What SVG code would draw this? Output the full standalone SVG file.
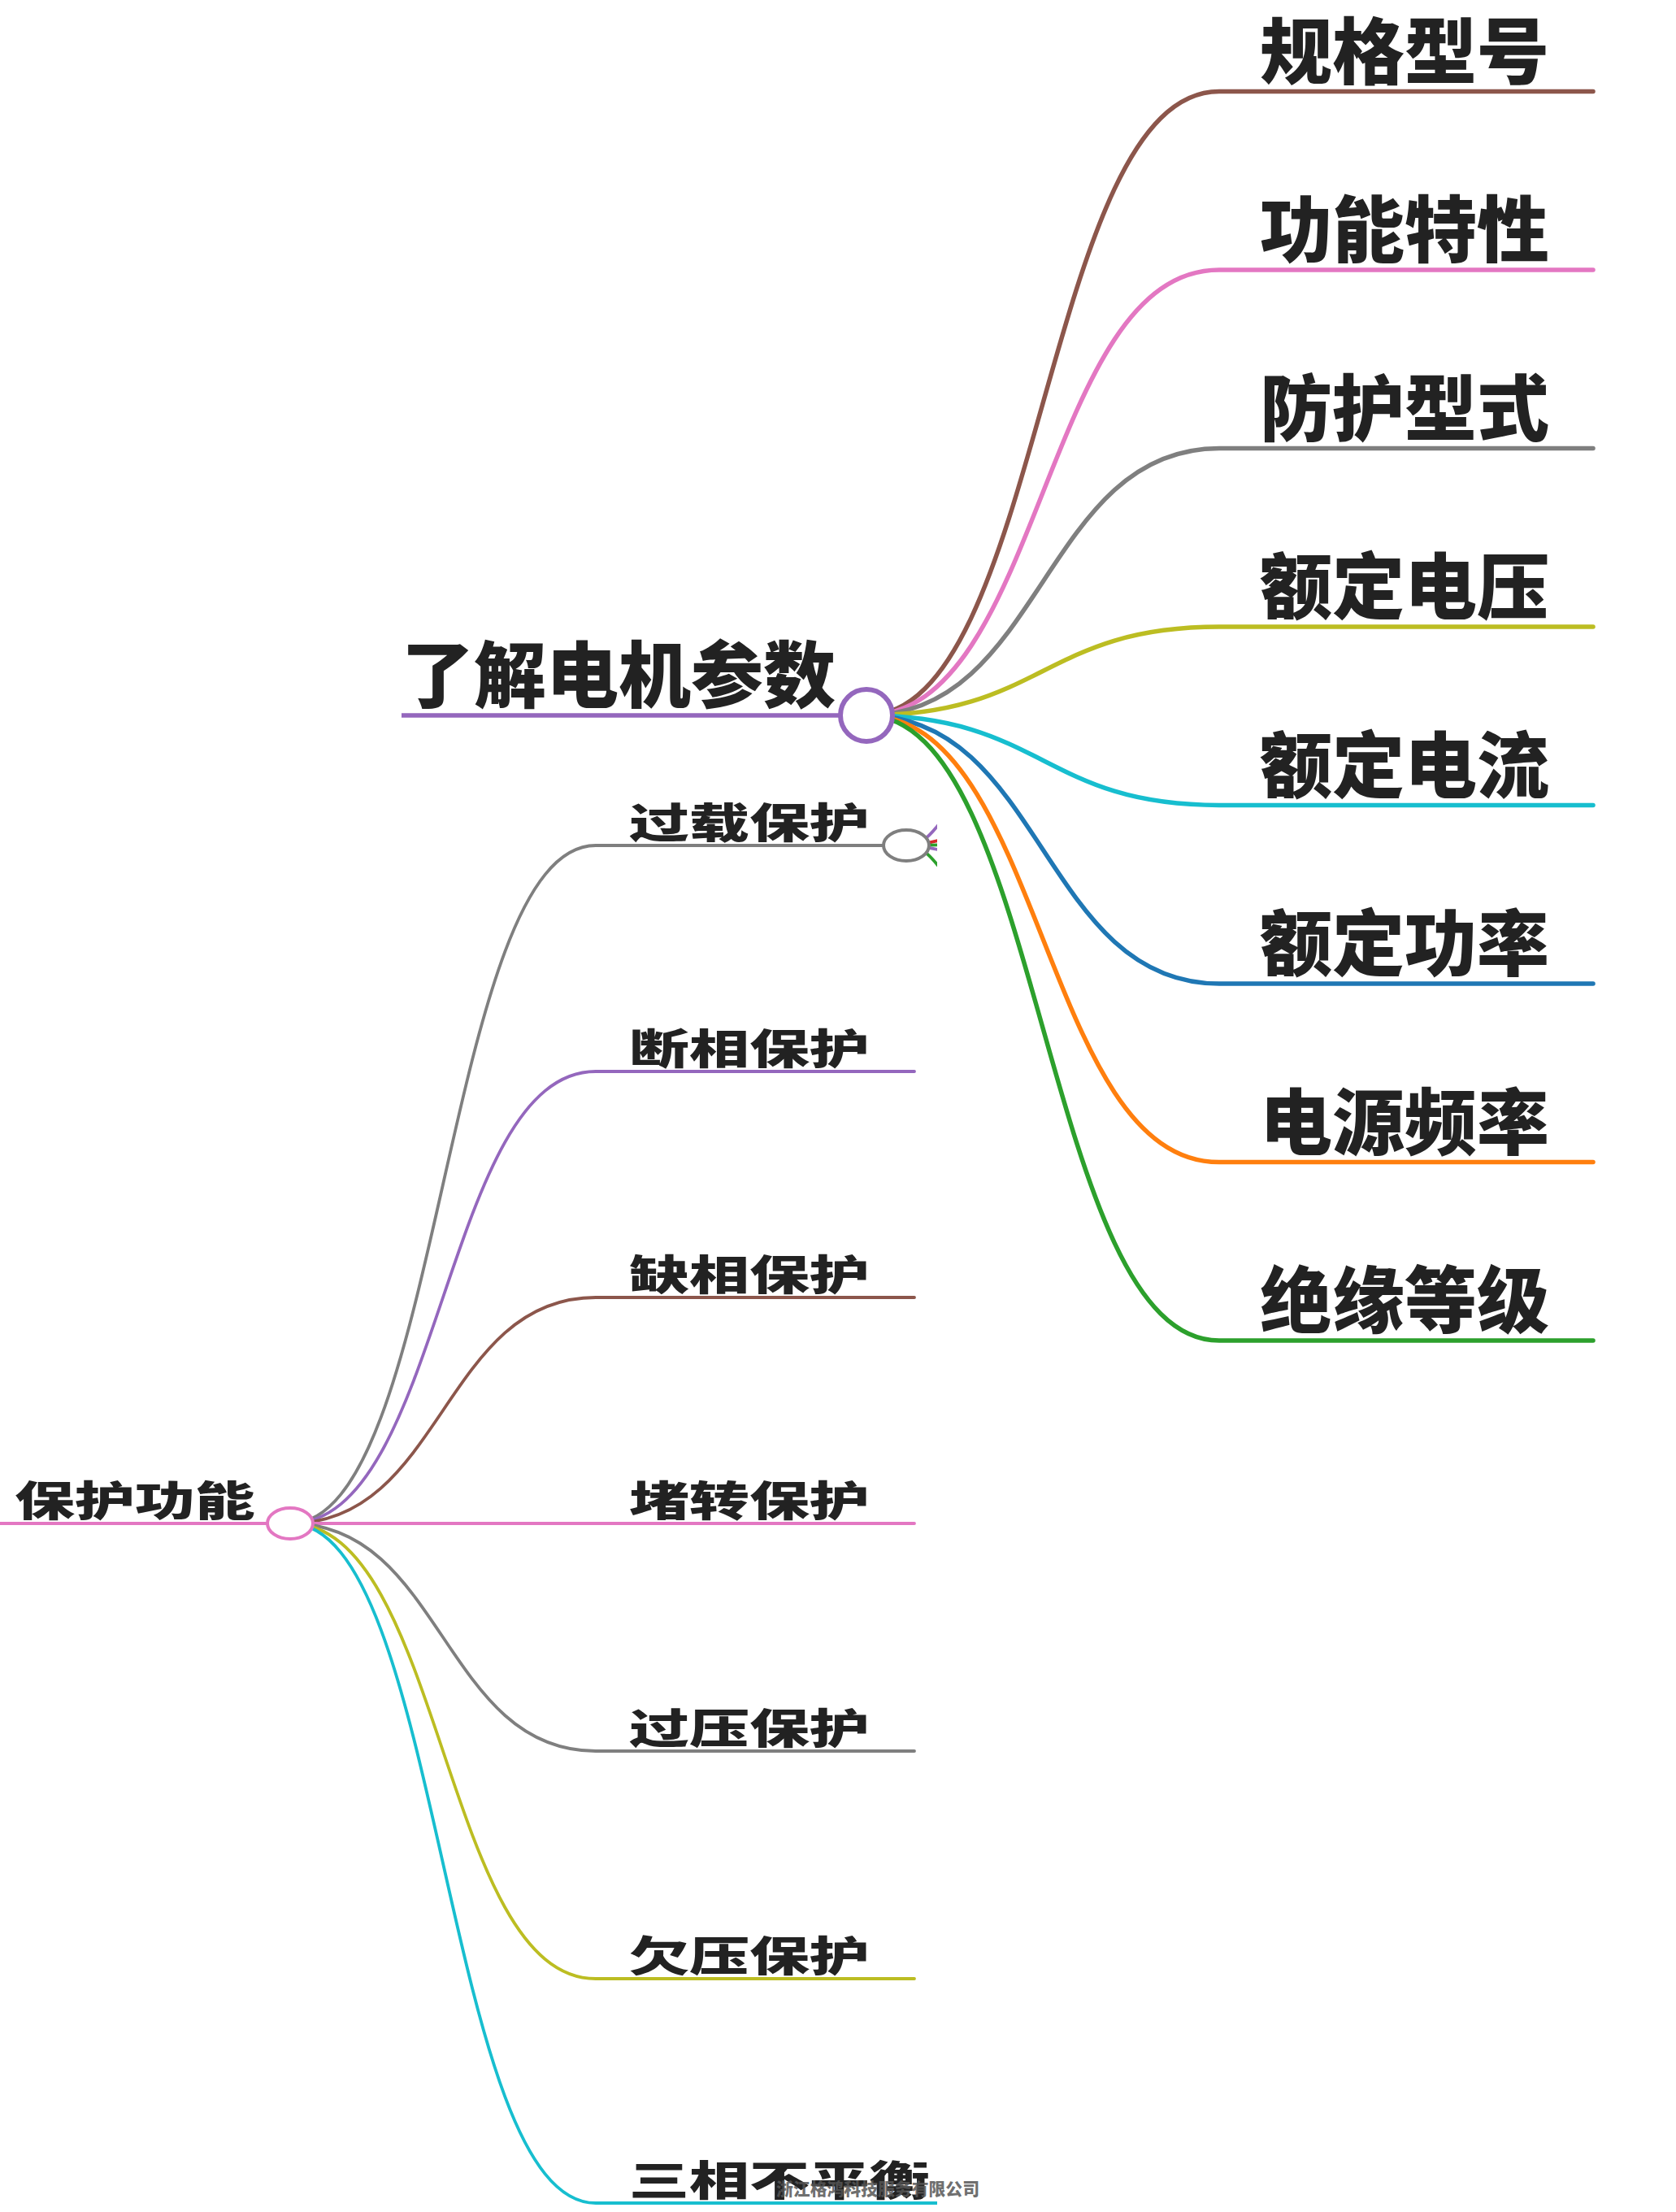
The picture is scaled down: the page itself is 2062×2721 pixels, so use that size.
<svg xmlns="http://www.w3.org/2000/svg" width="2062" height="2721" viewBox="0 0 2062 2721">
<style>
.t{font-family:"Noto Sans CJK SC","Noto Sans",sans-serif;font-weight:900;fill:#222}
.big{font-size:89px}
.sm{font-size:51px}
.lk{fill:none;stroke-linecap:round}
.r{stroke-width:5.5}
.l{stroke-width:3.8}
.wm{font-family:"Noto Sans CJK SC",sans-serif;font-weight:900;font-size:21px;fill:#555;fill-opacity:0.85}
</style>
<defs>
<clipPath id="leftClip"><rect x="0" y="0" width="1153" height="2721"/></clipPath>
</defs>
<rect width="2062" height="2721" fill="#fff"/>

<g id="left-subtree" clip-path="url(#leftClip)">
  <g id="connectors-left">
    <path class="lk l" stroke="#7f7f7f" d="M357 1874 C545 1874 545 1040 733 1040 L1087 1040"/>
    <path class="lk l" stroke="#9467bd" d="M357 1874 C545 1874 545 1318 733 1318 L1125 1318"/>
    <path class="lk l" stroke="#8c564b" d="M357 1874 C545 1874 545 1596 733 1596 L1125 1596"/>
    <path class="lk l" stroke="#e377c2" d="M357 1874 L1125 1874"/>
    <path class="lk l" stroke="#7f7f7f" d="M357 1874 C545 1874 545 2154 733 2154 L1125 2154"/>
    <path class="lk l" stroke="#bcbd22" d="M357 1874 C545 1874 545 2434 733 2434 L1125 2434"/>
    <path class="lk l" stroke="#17becf" d="M357 1874 C545 1874 545 2710 733 2710 L1200 2710"/>
    <g id="stubs">
      <path class="lk l" stroke="#9467bd" d="M1115 1040 C1132 1040 1143 1030 1158 1010"/>
      <path class="lk l" stroke="#d62728" d="M1115 1040 C1132 1040 1145 1036 1158 1033"/>
      <path class="lk l" stroke="#2ca02c" d="M1115 1040 C1132 1040 1145 1040 1158 1039"/>
      <path class="lk l" stroke="#9467bd" d="M1115 1040 C1132 1040 1145 1043 1158 1046"/>
      <path class="lk l" stroke="#2ca02c" d="M1115 1040 C1132 1040 1143 1050 1158 1070"/>
    </g>
  </g>
  <g id="node-baohu">
    <line x1="0" y1="1874" x2="330" y2="1874" stroke="#e377c2" stroke-width="4"/>
    <ellipse cx="357" cy="1874" rx="28" ry="19" fill="#fff" stroke="#e377c2" stroke-width="4"/>
    <text class="t sm" transform="translate(18 1865) scale(1.45 1)">保护功能</text>
  </g>
  <g id="node-guozai">
    <ellipse cx="1115" cy="1040" rx="28" ry="19" fill="#fff" stroke="#7f7f7f" stroke-width="4"/>
    <text class="t sm" transform="translate(774 1031) scale(1.45 1)">过载保护</text>
  </g>
  <g id="node-duanxiang"><text class="t sm" transform="translate(774 1309) scale(1.45 1)">断相保护</text></g>
  <g id="node-quexiang"><text class="t sm" transform="translate(774 1587) scale(1.45 1)">缺相保护</text></g>
  <g id="node-duzhuan"><text class="t sm" transform="translate(774 1865) scale(1.45 1)">堵转保护</text></g>
  <g id="node-guoya"><text class="t sm" transform="translate(774 2145) scale(1.45 1)">过压保护</text></g>
  <g id="node-qianya"><text class="t sm" transform="translate(774 2425) scale(1.45 1)">欠压保护</text></g>
  <g id="node-sanxiang"><text class="t sm" transform="translate(774 2701) scale(1.45 1)">三相不平衡</text></g>
</g>

<g id="connectors-right">
  <path class="lk r" stroke="#8c564b" d="M1066 880 C1283 880 1283 112.5 1500 112.5 L1960 112.5"/>
  <path class="lk r" stroke="#e377c2" d="M1066 880 C1283 880 1283 332 1500 332 L1960 332"/>
  <path class="lk r" stroke="#7f7f7f" d="M1066 880 C1283 880 1283 551.5 1500 551.5 L1960 551.5"/>
  <path class="lk r" stroke="#bcbd22" d="M1066 880 C1283 880 1283 771 1500 771 L1960 771"/>
  <path class="lk r" stroke="#17becf" d="M1066 880 C1283 880 1283 990.5 1500 990.5 L1960 990.5"/>
  <path class="lk r" stroke="#1f77b4" d="M1066 880 C1283 880 1283 1210 1500 1210 L1960 1210"/>
  <path class="lk r" stroke="#ff7f0e" d="M1066 880 C1283 880 1283 1429.5 1500 1429.5 L1960 1429.5"/>
  <path class="lk r" stroke="#2ca02c" d="M1066 880 C1283 880 1283 1649 1500 1649 L1960 1649"/>
</g>

<g id="node-canshu">
  <line x1="494" y1="880" x2="1036" y2="880" stroke="#9467bd" stroke-width="5.5"/>
  <circle cx="1066" cy="880" r="32" fill="#fff" stroke="#9467bd" stroke-width="6"/>
  <text class="t big" x="494" y="863">了解电机参数</text>
</g>
<g id="node-guige"><text class="t big" x="1550" y="96">规格型号</text></g>
<g id="node-gongneng"><text class="t big" x="1550" y="315">功能特性</text></g>
<g id="node-fanghu"><text class="t big" x="1550" y="535">防护型式</text></g>
<g id="node-dianya"><text class="t big" x="1550" y="754">额定电压</text></g>
<g id="node-dianliu"><text class="t big" x="1550" y="974">额定电流</text></g>
<g id="node-gonglv"><text class="t big" x="1550" y="1193">额定功率</text></g>
<g id="node-pinlv"><text class="t big" x="1550" y="1413">电源频率</text></g>
<g id="node-jueyuan"><text class="t big" x="1550" y="1632">绝缘等级</text></g>

<text class="wm" x="955" y="2700" textLength="250" lengthAdjust="spacingAndGlyphs">浙江格鸿科技服务有限公司</text>
</svg>
